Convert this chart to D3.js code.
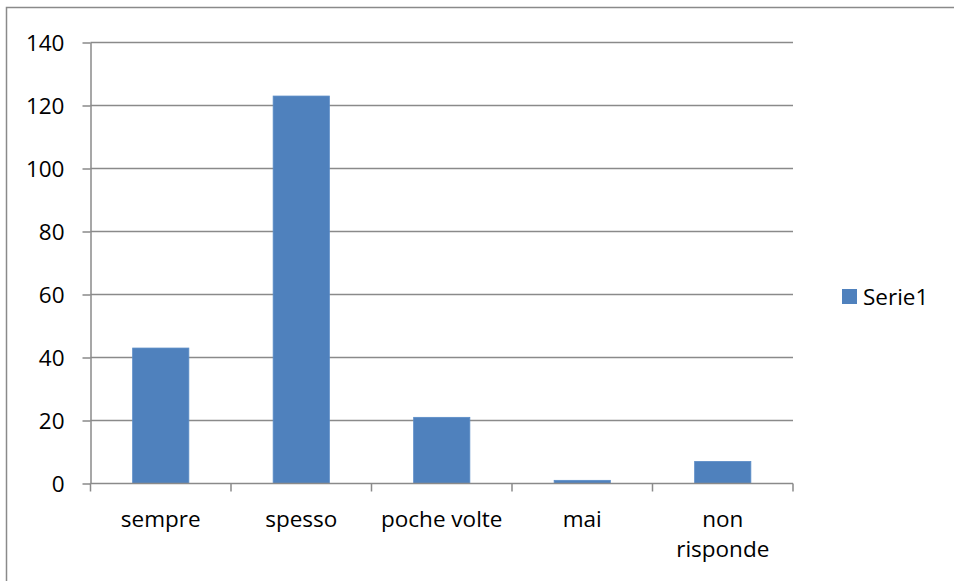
<!DOCTYPE html>
<html>
<head>
<meta charset="utf-8">
<script src="https://cdn.jsdelivr.net/npm/d3@7"></script>
<style>
  html, body { margin: 0; padding: 0; background: #fff; }
  svg { display: block; }
  text { font-family: "Open Sans", Lato, sans-serif; fill: #000; }
</style>
</head>
<body>
<svg id="chart" width="954" height="581"></svg>
<script>
// Survey answers: category labels (lines split for wrapping) and counts
const categories = ["sempre", "spesso", "poche volte", "mai", "non risponde"];
const categoryLines = [["sempre"], ["spesso"], ["poche volte"], ["mai"], ["non", "risponde"]];
const values = [43, 123, 21, 1, 7];
const yTicks = [0, 20, 40, 60, 80, 100, 120, 140];
const seriesName = "Serie1";

const W = 954, H = 581;
const plot = { left: 90.5, right: 793, top: 42.5, bottom: 483.5 };
const gridColor = "#8a8a8a";
const barColor = "#4F81BD";
const fontSize = 22.5;
const fontFamily = "'Open Sans', Lato, sans-serif";

const svg = d3.select("#chart");

// Outer chart frame (continues past the right and bottom edges)
svg.append("rect")
  .attr("x", 6.5).attr("y", 7.5)
  .attr("width", W + 10).attr("height", H + 10)
  .attr("fill", "none").attr("stroke", gridColor).attr("stroke-width", 1.5);

const x = d3.scaleBand().domain(categories)
  .range([plot.left, plot.right]).paddingInner(0.6).paddingOuter(0.3);
const xOuter = d3.scaleBand().domain(categories)
  .range([plot.left, plot.right]).padding(0);
const y = d3.scaleLinear().domain([0, 140]).range([plot.bottom, plot.top]);

// Horizontal gridlines
svg.append("g").selectAll("line").data(yTicks.filter(t => t > 0)).join("line")
  .attr("x1", plot.left).attr("x2", plot.right)
  .attr("y1", d => y(d)).attr("y2", d => y(d))
  .attr("stroke", gridColor).attr("stroke-width", 1.5);

// Value axis with outward ticks
const yAxis = svg.append("g").attr("transform", `translate(${plot.left},0)`)
  .call(d3.axisLeft(y).tickValues(yTicks).tickSize(8).tickPadding(18).tickSizeOuter(0));
yAxis.select(".domain").attr("stroke", gridColor).attr("stroke-width", 1.5);
yAxis.selectAll(".tick line").attr("stroke", gridColor).attr("stroke-width", 1.5);
yAxis.selectAll(".tick text")
  .attr("font-size", fontSize).attr("font-family", fontFamily)
  .attr("fill", "#000").attr("dy", "0.36em");

// Bars
svg.append("g").selectAll("rect").data(values).join("rect")
  .attr("x", (d, i) => x(categories[i]))
  .attr("width", x.bandwidth())
  .attr("y", d => y(d))
  .attr("height", d => y(0) - y(d))
  .attr("fill", barColor)
  .attr("stroke", "#5a8cc6").attr("stroke-width", 0.8);

// Category axis: baseline and tick marks between categories
const xg = svg.append("g");
xg.append("line")
  .attr("x1", plot.left).attr("x2", plot.right)
  .attr("y1", plot.bottom).attr("y2", plot.bottom)
  .attr("stroke", gridColor).attr("stroke-width", 1.5);
const boundaries = categories.map(c => xOuter(c)).concat([plot.right]);
xg.selectAll("line.tick").data(boundaries).join("line").attr("class", "tick")
  .attr("x1", d => d).attr("x2", d => d)
  .attr("y1", plot.bottom).attr("y2", plot.bottom + 8)
  .attr("stroke", gridColor).attr("stroke-width", 1.5);

// Category labels, wrapped onto two lines where needed
const labels = xg.selectAll("text.cat").data(categoryLines).join("text").attr("class", "cat")
  .attr("text-anchor", "middle").attr("font-size", fontSize)
  .attr("transform", (d, i) => `translate(${xOuter(categories[i]) + xOuter.bandwidth() / 2},527)`);
labels.selectAll("tspan").data(d => d).join("tspan")
  .attr("x", 0).attr("y", (d, j) => j * 30).text(d => d);

// Legend
const legend = svg.append("g").attr("transform", "translate(842,289)");
legend.append("rect").attr("width", 15).attr("height", 15).attr("fill", barColor);
legend.append("text").attr("x", 21).attr("y", 7.5).attr("dy", "0.36em")
  .attr("font-size", fontSize).text(seriesName);
</script>
</body>
</html>
